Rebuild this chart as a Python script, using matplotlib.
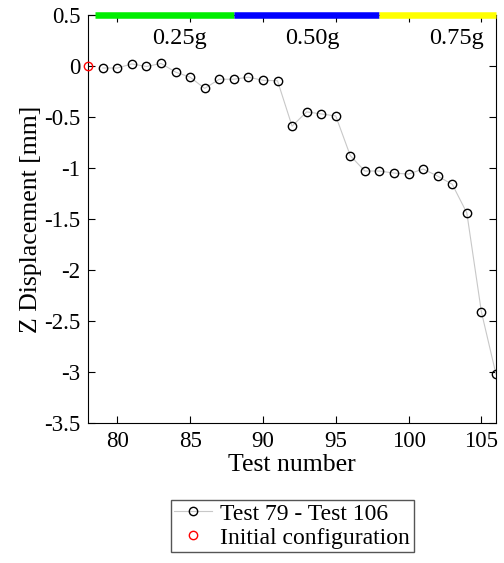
import matplotlib.pyplot as plt
from matplotlib.ticker import FuncFormatter

plt.rcParams['font.family'] = ['Liberation Serif', 'DejaVu Serif']

# test numbers and z displacement (mm)
tests = list(range(78, 107))
z_disp = [0.0, -0.02, -0.02, 0.02, -0.005, 0.025, -0.06, -0.11, -0.22, -0.13,
          -0.13, -0.11, -0.14, -0.145, -0.59, -0.45, -0.47, -0.49, -0.88, -1.03,
          -1.03, -1.05, -1.06, -1.01, -1.08, -1.16, -1.44, -2.41, -3.02]

# shaking intensity bands
band_starts = [78.5, 88, 98]
band_ends = [88, 98, 106]
band_colors = ['#00ee00', '#0000ff', '#ffff00']
band_labels = ['0.25g', '0.50g', '0.75g']
label_x = [84.3, 93.4, 103.3]

fig = plt.figure(figsize=(5.04, 5.63), dpi=100)
ax = fig.add_axes([0.175, 0.2487, 0.809, 0.7247])

ax.plot(tests[1:], z_disp[1:], color='#c8c8c8', lw=0.8, marker='o', ms=6,
        mfc='none', mec='black', mew=1.0, label='Test 79 - Test 106')
ax.plot(tests[0], z_disp[0], linestyle='none', marker='o', ms=6, mfc='none',
        mec='red', mew=1.0, label='Initial configuration', clip_on=False,
        zorder=6)

for s, e, c in zip(band_starts, band_ends, band_colors):
    ax.plot([s, e], [0.5, 0.5], color=c, lw=4.7, solid_capstyle='butt',
            clip_on=False, zorder=5)
for x, t in zip(label_x, band_labels):
    ax.text(x, 0.27, t, ha='center', va='center', fontsize=17.5)

ax.set_xlim(78, 106)
ax.set_ylim(-3.5, 0.5)
ax.set_xticks([80, 85, 90, 95, 100, 105])
ax.set_yticks([0.5, 0, -0.5, -1, -1.5, -2, -2.5, -3, -3.5])
ax.yaxis.set_major_formatter(FuncFormatter(lambda v, p: ('%g' % v).replace('\u2212', '-')))
ax.tick_params(direction='in', top=True, right=True, labelsize=16.5,
               length=5, pad=5.5)
ax.set_xlabel('Test number', fontsize=18.5, labelpad=2)
ax.set_ylabel('Z Displacement [mm]', fontsize=18.5, labelpad=2)

ax.legend(loc='upper center', bbox_to_anchor=(0.5, -0.188), fontsize=17,
          frameon=True, fancybox=False, edgecolor='#555555', borderpad=0.15,
          handlelength=1.6, handletextpad=0.35, labelspacing=0.1,
          borderaxespad=0, framealpha=1)

fig.savefig('out.png', dpi=100)
